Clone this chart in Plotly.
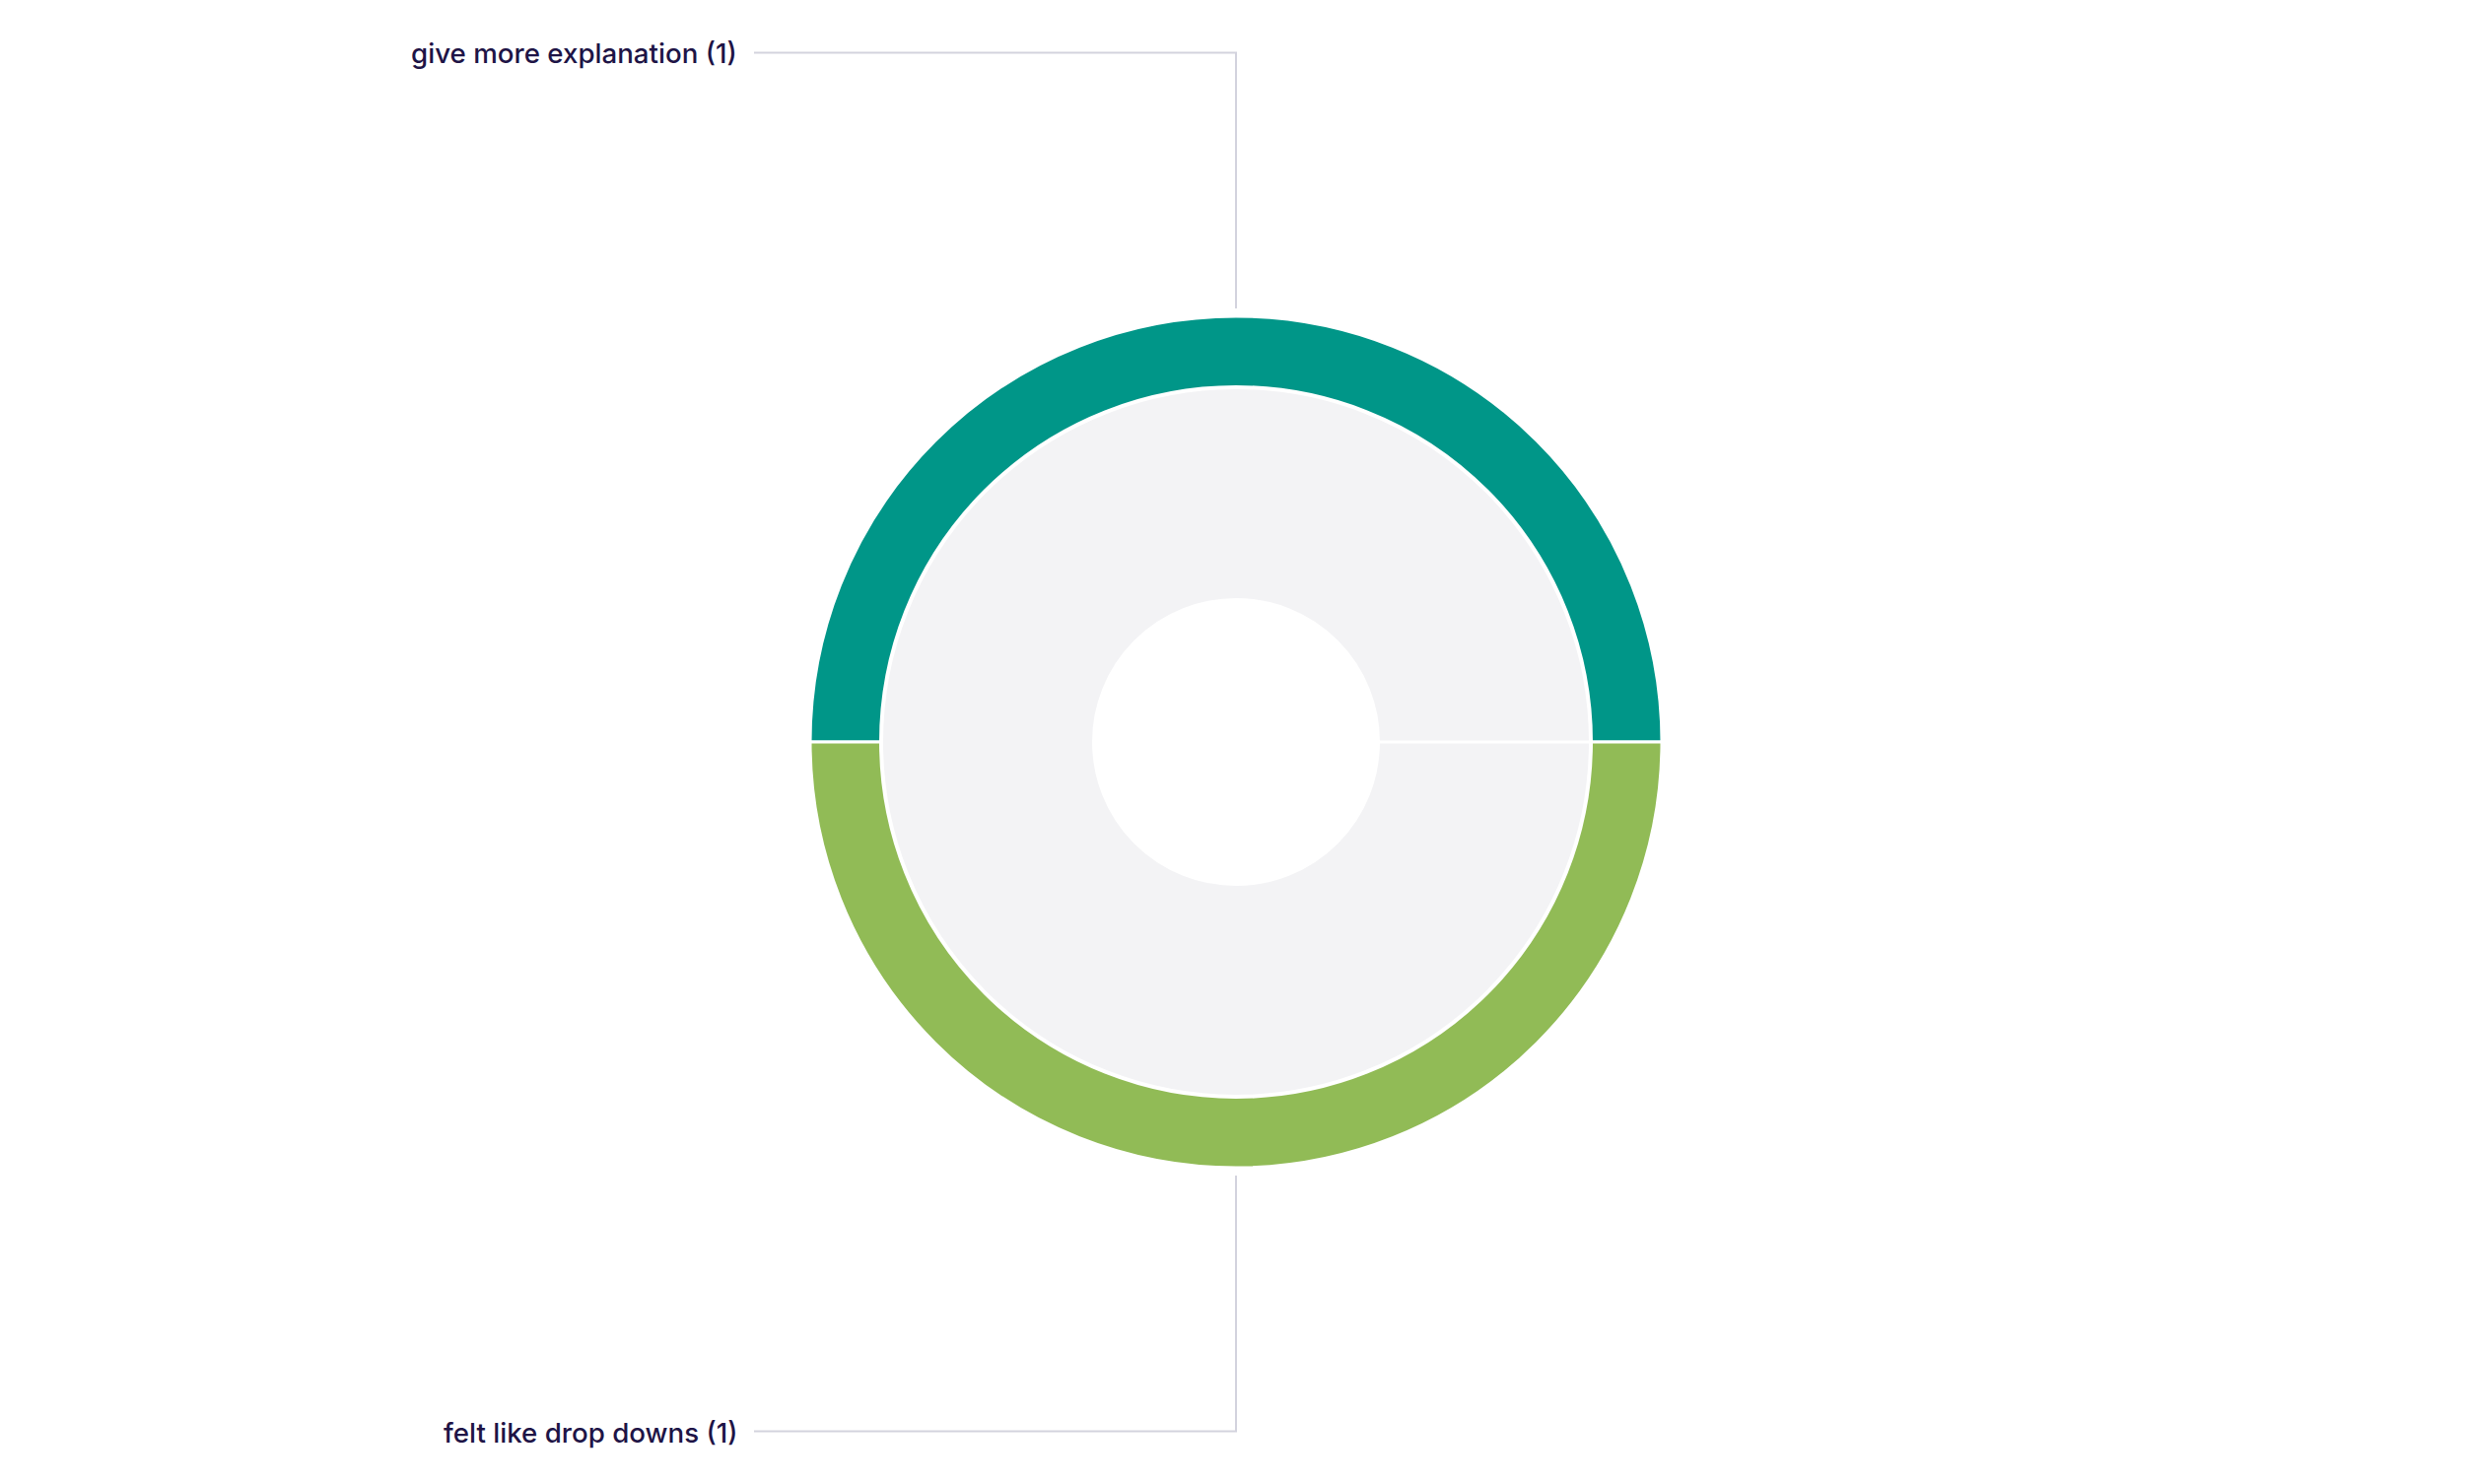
import plotly.graph_objects as go

# Data
categories = ["give more explanation", "felt like drop downs"]
counts = [1, 1]
colors = ["#009688", "#91BB56"]
total_label = ["All responses"]
total_value = [sum(counts)]

W, H = 2508, 1506
cx, cy = W / 2, H / 2

outer_r = 432.0
outer_hole_r = 360.5
inner_r = 359.5
inner_hole_r = 144.5

def dom(r):
    return dict(x=[0.5 - r / W, 0.5 + r / W], y=[0.5 - r / H, 0.5 + r / H])

fig = go.Figure()

fig.add_trace(go.Pie(
    labels=total_label, values=total_value,
    domain=dom(inner_r), hole=inner_hole_r / inner_r,
    marker=dict(colors=["#F3F3F5"], line=dict(color="white", width=3)),
    textinfo="none", hoverinfo="skip", sort=False, showlegend=False,
    rotation=-90, direction="counterclockwise",
))

fig.add_trace(go.Pie(
    labels=categories, values=counts,
    domain=dom(outer_r), hole=outer_hole_r / outer_r,
    marker=dict(colors=colors, line=dict(color="white", width=3)),
    textinfo="none", hoverinfo="label+value", sort=False, showlegend=False,
    rotation=-90, direction="counterclockwise",
))

shapes = []
# seam of the inner ring at 3 o'clock
shapes.append(dict(type="line", xref="paper", yref="paper",
                   x0=(cx + inner_hole_r - 2) / W, x1=(cx + inner_r + 1) / W,
                   y0=0.5, y1=0.5, line=dict(color="white", width=3)))

line_col = "#D3D3DE"
text_right = 750
line_start = 765
label_y = [53.5, 1452.5]
conn_end = [313, 1193]

annotations = []
for i, (cat, n) in enumerate(zip(categories, counts)):
    ly = label_y[i]
    path = f"M {line_start / W} {1 - ly / H} L {cx / W} {1 - ly / H} L {cx / W} {1 - conn_end[i] / H}"
    shapes.append(dict(type="path", xref="paper", yref="paper", path=path,
                       line=dict(color=line_col, width=2)))
    annotations.append(dict(
        text=f"{cat} ({n})", xref="paper", yref="paper",
        x=text_right / W, y=1 - (ly + 1) / H, xanchor="right", yanchor="middle",
        showarrow=False,
        font=dict(family="Inter", size=27.7, color="#1E1446", weight=500),
    ))

fig.update_layout(
    width=W, height=H,
    margin=dict(l=0, r=0, t=0, b=0),
    paper_bgcolor="white", plot_bgcolor="white",
    shapes=shapes, annotations=annotations,
    showlegend=False,
)

fig.write_html("out.html", config={"displayModeBar": False},
               post_script="document.body.style.margin='0';document.body.style.padding='0';document.body.style.overflow='hidden';")
